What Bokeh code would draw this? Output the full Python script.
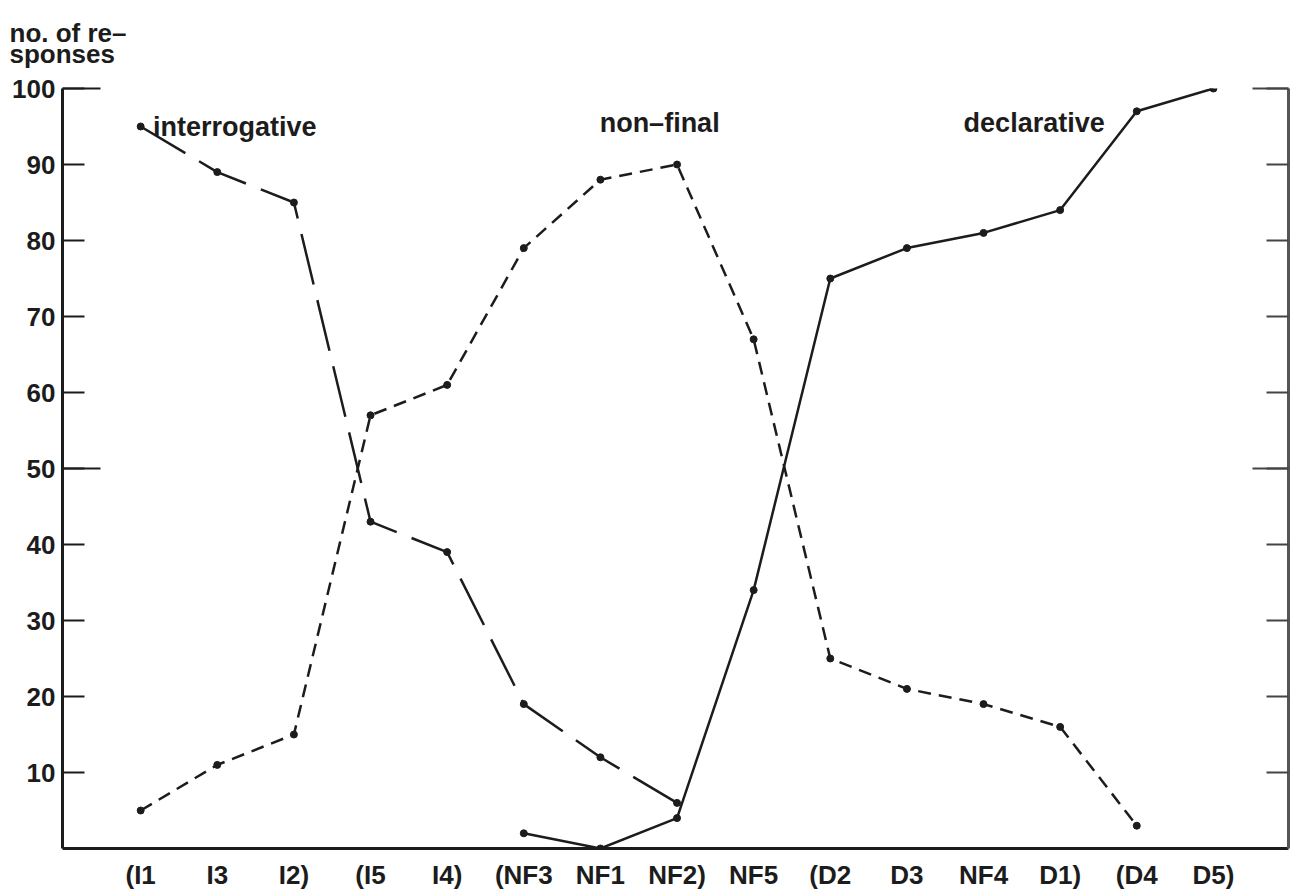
from bokeh.plotting import figure
from bokeh.models import LinearAxis, FixedTicker, Label, ColumnDataSource, Range1d, Title
from bokeh.embed import file_html
from bokeh.resources import INLINE

# ---- data ----
categories = ["I1", "I3", "I2", "I5", "I4", "NF3", "NF1", "NF2", "NF5",
              "D2", "D3", "NF4", "D1", "D4", "D5"]
tick_labels = ["(I1", "I3", "I2)", "(I5", "I4)", "(NF3", "NF1", "NF2)", "NF5",
               "(D2", "D3", "NF4", "D1)", "(D4", "D5)"]

interrogative_cats = ["I1", "I3", "I2", "I5", "I4", "NF3", "NF1", "NF2"]
interrogative_vals = [95, 89, 85, 43, 39, 19, 12, 6]

nonfinal_cats = ["I1", "I3", "I2", "I5", "I4", "NF3", "NF1", "NF2", "NF5",
                 "D2", "D3", "NF4", "D1", "D4"]
nonfinal_vals = [5, 11, 15, 57, 61, 79, 88, 90, 67, 25, 21, 19, 16, 3]

declarative_cats = ["NF3", "NF1", "NF2", "NF5", "D2", "D3", "NF4", "D1", "D4", "D5"]
declarative_vals = [2, 0, 4, 34, 75, 79, 81, 84, 97, 100]

y_ticks = [10, 20, 30, 40, 50, 60, 70, 80, 90, 100]
y_long_ticks = [50, 100]

FONT = "Liberation Sans, Arial, sans-serif"
INK = "#1c1c1c"

pos = {c: i for i, c in enumerate(categories)}

p = figure(width=1296, height=892, output_backend="svg", toolbar_location=None,
           x_range=Range1d(-1.02, 14.98), y_range=Range1d(0, 100),
           min_border_left=62, min_border_right=8, min_border_top=88,
           min_border_bottom=42, background_fill_color="white",
           border_fill_color="white")
p.outline_line_color = None
p.grid.visible = False

# axis title (two lines) above the plot, left of the frame
p.add_layout(Title(text="no. of re–\nsponses", align="left", offset=-53,
                   standoff=34, vertical_align="top", text_font=FONT,
                   text_font_style="bold", text_font_size="26px",
                   text_color=INK, text_line_height=0.72), "above")

# left axis
ya = p.yaxis[0]
ya.ticker = FixedTicker(ticks=y_ticks, minor_ticks=y_long_ticks)
ya.major_tick_in = 22
ya.major_tick_out = 0
ya.minor_tick_in = 38
ya.minor_tick_out = 0
ya.major_tick_line_width = 2
ya.minor_tick_line_width = 2
ya.major_tick_line_color = INK
ya.minor_tick_line_color = INK
ya.axis_line_width = 3
ya.axis_line_color = INK
ya.major_label_text_font = FONT
ya.major_label_text_font_style = "bold"
ya.major_label_text_font_size = "26px"
ya.major_label_text_color = INK
ya.major_label_standoff = 7

# right axis
ra = LinearAxis(ticker=FixedTicker(ticks=y_ticks, minor_ticks=y_long_ticks))
ra.major_tick_in = 22
ra.major_tick_out = 0
ra.minor_tick_in = 36
ra.minor_tick_out = 0
ra.major_tick_line_width = 2
ra.minor_tick_line_width = 2
ra.major_tick_line_color = "#444444"
ra.minor_tick_line_color = "#444444"
ra.axis_line_width = 3
ra.axis_line_color = "#555555"
ra.major_label_overrides = {t: "" for t in y_ticks}
ra.major_label_standoff = 0
p.add_layout(ra, "right")

# bottom axis
xa = p.xaxis[0]
xa.ticker = FixedTicker(ticks=list(range(len(categories))))
xa.major_label_overrides = {i: lab for i, lab in enumerate(tick_labels)}
xa.major_tick_in = 0
xa.major_tick_out = 0
xa.minor_tick_line_color = None
xa.axis_line_width = 3
xa.axis_line_color = INK
xa.major_label_text_font = FONT
xa.major_label_text_font_style = "bold"
xa.major_label_text_font_size = "26px"
xa.major_label_text_color = INK
xa.major_label_standoff = 11

# series
def src(cats, vals):
    return ColumnDataSource(dict(x=[pos[c] for c in cats], y=vals))

s_int = src(interrogative_cats, interrogative_vals)
s_nf = src(nonfinal_cats, nonfinal_vals)
s_dec = src(declarative_cats, declarative_vals)

p.line("x", "y", source=s_int, line_color=INK, line_width=2.5, line_dash="52 16")
p.line("x", "y", source=s_nf, line_color=INK, line_width=2.5, line_dash="13 8")
p.line("x", "y", source=s_dec, line_color=INK, line_width=2.5)
for s in (s_int, s_nf, s_dec):
    p.scatter("x", "y", source=s, size=7, color=INK)

# series labels
lab_kw = dict(text_font=FONT, text_font_style="bold", text_font_size="27px",
              text_color=INK, text_baseline="alphabetic")
p.add_layout(Label(x=0.16, y=94.9, text="interrogative", **lab_kw))
p.add_layout(Label(x=5.99, y=95.4, text="non–final", **lab_kw))
p.add_layout(Label(x=10.74, y=95.4, text="declarative", **lab_kw))

open("out.html", "w").write(file_html(p, INLINE))
